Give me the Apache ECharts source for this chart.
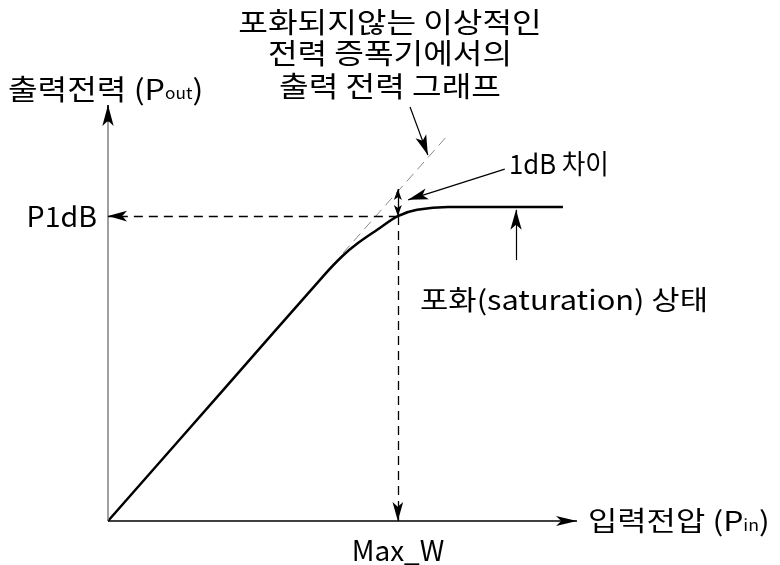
<!DOCTYPE html>
<html>
<head>
  <meta charset="utf-8">
  <title>P1dB</title>
  <script src="https://cdn.jsdelivr.net/npm/echarts@6/dist/echarts.min.js"></script>
  <style>
    html, body { margin: 0; padding: 0; background: #fff; }
    #main { width: 780px; height: 565px; }
  </style>
</head>
<body>
  <div id="main"></div>
  <script type="text/javascript">
    // 실제 증폭기 출력 곡선 (입력, 출력)
    var inputPower = [0, 24.5, 46.0, 50.0, 53.3, 57.4, 61.8, 65.9, 72.5, 97.0];
    var outputPower = [0, 31.4, 59.0, 63.7, 66.8, 70.0, 73.3, 74.8, 75.5, 75.5];
    // 포화되지 않는 이상적인 증폭기 (점선)
    var idealInput = [50.1, 72.5];
    var idealOutput = [64.4, 92.8];
    // 1dB 압축점
    var p1dbIn = 61.8;
    var p1dbOut = 73.3;
    var idealAtP1dB = 79.8;

    var FONT = '"Noto Sans CJK KR", "Noto Sans", sans-serif';

    var myChart = echarts.init(document.getElementById('main'));

    var curve = [];
    for (var i = 0; i < inputPower.length; i++) {
      curve.push([inputPower[i], outputPower[i]]);
    }

    // markLine 한 쌍: 끝에 화살표 (필요하면 양쪽)
    function arrow(from, to, opt) {
      var w = opt.w || 8, h = opt.h || 20;
      var head = { symbol: 'arrow', symbolSize: [w, h] };
      var start = { coord: from, symbol: 'none', lineStyle: { type: opt.dash ? [9, 6] : 'solid', color: opt.color || '#000', width: opt.width || 1.2 } };
      if (opt.both) start = echarts.util.extend(start, head);
      var end = echarts.util.extend({ coord: to }, opt.noHead ? { symbol: 'none' } : head);
      return [start, end];
    }

    function txt(x, y, s, size, align, sx) {
      return {
        type: 'text', x: x, y: y, scaleX: sx || 1,
        style: { text: s, font: size + 'px ' + FONT, fill: '#000', align: align, verticalAlign: 'middle' }
      };
    }

    function subTxt(x, y, main, sub, size, sx) {
      return {
        type: 'text', x: x, y: y, scaleX: sx || 1,
        style: {
          text: '{a|' + main + '}{s|' + sub + '}{a|)}', align: 'left', verticalAlign: 'middle',
          rich: {
            a: { fontSize: size, fontFamily: FONT, fill: '#000', lineHeight: 34 },
            s: { fontSize: 15, fontFamily: FONT, fill: '#000', lineHeight: 34, verticalAlign: 'bottom', padding: [0, 0, 5, 0] }
          }
        }
      };
    }

    myChart.setOption({
      animation: false,
      grid: { left: 108, right: 203, top: 105, bottom: 44 },
      xAxis: {
        type: 'value', min: 0, max: 100,
        splitLine: { show: false }, axisTick: { show: false }, axisLabel: { show: false },
        axisLine: { show: false }
      },
      yAxis: {
        type: 'value', min: 0, max: 100,
        splitLine: { show: false }, axisTick: { show: false }, axisLabel: { show: false },
        axisLine: { show: false }
      },
      series: [
        {
          type: 'line',
          data: [[idealInput[0], idealOutput[0]], [idealInput[1], idealOutput[1]]],
          showSymbol: false,
          lineStyle: { color: '#8a8a8a', width: 1, type: [10, 6] },
          markLine: {
            silent: true,
            animation: false,
            label: { show: false },
            emphasis: { disabled: true },
            data: [
              // 축
              arrow([0, 0], [0, 100], { color: '#808080', width: 1.5, noHead: true }),
              arrow([0, 96], [0, 100], { w: 8.5, h: 21, width: 1.5 }),
              arrow([0, 0], [100, 0], { w: 7.5, h: 21, width: 1.5 }),
              // P1dB 점선
              arrow([p1dbIn, p1dbOut], [0, p1dbOut], { dash: true, w: 8, h: 19, width: 1.3 }),
              arrow([p1dbIn, p1dbOut], [p1dbIn, 0], { dash: true, w: 8, h: 19, width: 1.3 }),
              // 1dB 차이
              arrow([p1dbIn, p1dbOut], [p1dbIn, idealAtP1dB], { both: true, w: 6, h: 11, width: 1.3 }),
              // 설명 화살표
              arrow([84.6, 84.6], [64.0, 77.2], { w: 8.5, h: 20 }),
              arrow([64.4, 99.5], [68.2, 88.0], { w: 8.5, h: 20 }),
              arrow([87.0, 62.7], [87.0, 74.8], { w: 8.5, h: 20 })
            ]
          }
        },
        {
          type: 'line',
          data: curve,
          smooth: 0.35,
          showSymbol: false,
          z: 3,
          lineStyle: { color: '#000', width: 2.5 }
        }
      ],
      graphic: [
        txt(390, 22, '포화되지않는 이상적인', 28, 'center', 1.15),
        txt(390, 53, '전력 증폭기에서의', 28, 'center', 1.15),
        txt(390, 86, '출력 전력 그래프', 28, 'center', 1.15),
        subTxt(8, 89, '출력전력 (P', 'out', 28, 1.15),
        txt(509, 164, '1dB 차이', 27, 'left', 0.95),
        txt(97, 216, 'P1dB', 28, 'right', 1.02),
        txt(420, 300, '포화(saturation) 상태', 27, 'left', 1.14),
        txt(398, 550, 'Max_W', 28, 'center', 1.0),
        subTxt(588, 521, '입력전압 (P', 'in', 27, 1.18)
      ]
    });
  </script>
</body>
</html>
